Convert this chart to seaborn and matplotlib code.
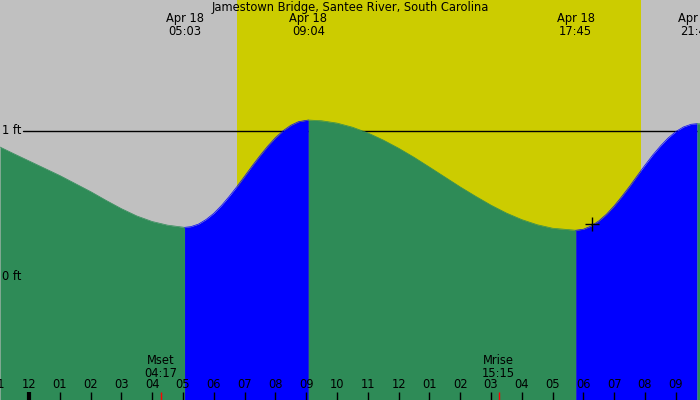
import matplotlib
matplotlib.use("Agg")
import matplotlib.pyplot as plt
import matplotlib.transforms as mtransforms
import seaborn as sns
import pandas as pd

# ---- data (hours after midnight Apr 18, heights in ft) ----
title = "Jamestown Bridge, Santee River, South Carolina"

seg_fall1_t = [-0.94, -0.5, 0.0, 0.5, 1.0, 1.5, 2.0, 2.5, 3.0, 3.5, 4.0, 4.5, 5.05]
seg_fall1_h = [0.89, 0.845, 0.795, 0.745, 0.695, 0.64, 0.585, 0.525, 0.468, 0.418, 0.38, 0.355, 0.34]

seg_rise1_t = [5.05, 5.25, 5.5, 5.75, 6.0, 6.25, 6.5, 6.75, 7.0, 7.25, 7.5, 7.75, 8.0,
               8.25, 8.5, 8.75, 9.07]
seg_rise1_h = [0.34, 0.3445, 0.362, 0.394, 0.436, 0.490, 0.552, 0.619, 0.690, 0.762,
               0.831, 0.896, 0.954, 1.0015, 1.039, 1.0636, 1.075]

seg_fall2_t = [9.07, 9.5, 10.0, 10.5, 11.0, 11.5, 12.0, 12.5, 13.0, 13.5, 14.0, 14.5,
               15.0, 15.5, 16.0, 16.5, 17.0, 17.75]
seg_fall2_h = [1.075, 1.070, 1.054, 1.026, 0.987, 0.938, 0.882, 0.820, 0.753, 0.685, 0.617,
               0.553, 0.492, 0.438, 0.393, 0.358, 0.334, 0.32]

seg_rise2_t = [17.75, 18.0, 18.25, 18.5, 18.75, 19.0, 19.25, 19.5, 19.75, 20.0, 20.25,
               20.5, 20.75, 21.0, 21.25, 21.5, 21.69]
seg_rise2_h = [0.32, 0.327, 0.349, 0.384, 0.430, 0.487, 0.552, 0.621, 0.694, 0.766, 0.835,
               0.897, 0.952, 0.996, 1.0277, 1.046, 1.05]

seg_fall3_t = [21.69, 21.8]
seg_fall3_h = [1.05, 1.049]

tide_times = [5.05, 9.067, 17.75, 21.69]
tide_labels = ["Apr 18\n05:03", "Apr 18\n09:04", "Apr 18\n17:45", "Apr 18\n21:41"]

sunrise, sunset = 6.75, 19.87

moon_times = [4.283, 15.25]
moon_labels = ["Mset\n04:17", "Mrise\n15:15"]

hour_ticks = list(range(-1, 22))
hour_labels = ["11", "12", "01", "02", "03", "04", "05", "06", "07", "08", "09", "10",
               "11", "12", "01", "02", "03", "04", "05", "06", "07", "08", "09"]

level_values = [1, 0]
level_labels = ["1 ft", "0 ft"]

now_t, now_h = 18.28, 0.363

# ---- style ----
sns.set_style("white")
plt.rcParams['font.family'] = ['DejaVu Sans']
FS = 8.3

GRAY = "#c0c0c0"
YELLOW = "#cccc00"
GREEN = "#2e8b57"
BLUE = "#0000ff"

fig = plt.figure(figsize=(7, 4), dpi=100)
ax = fig.add_axes([0, 0, 1, 1])
XMIN, XMAX = -0.942, 21.786
ymin, ymax = -0.8425, 1.897

ax.axvspan(-5, 30, color=GRAY, zorder=0, lw=0)
ax.axvspan(sunrise, sunset, color=YELLOW, zorder=0.5, lw=0)

# 1 ft reference line (behind tide fill)
ax.plot([-0.2, 22], [1, 1], color="black", lw=1, zorder=1)

segments = [
    (seg_fall1_t, seg_fall1_h, GREEN),
    (seg_rise1_t, seg_rise1_h, BLUE),
    (seg_fall2_t, seg_fall2_h, GREEN),
    (seg_rise2_t, seg_rise2_h, BLUE),
    (seg_fall3_t, seg_fall3_h, GREEN),
]
for t, h, c in segments:
    df = pd.DataFrame({"t": t, "h": h})
    ax.fill_between(df["t"], ymin, df["h"], color=c, lw=0, zorder=2)
    sns.lineplot(data=df, x="t", y="h", color=c, lw=0.5, ax=ax, zorder=2.1,
                 estimator=None, sort=False)
ax.set_xlim(XMIN, XMAX)
ax.set_ylim(ymin, ymax)
ax.set_axis_off()

ax.plot([now_t], [now_h], marker="+", color="black", ms=10, mew=1, zorder=5)

trans = mtransforms.blended_transform_factory(ax.transData, ax.transAxes)
trans_left = mtransforms.blended_transform_factory(ax.transAxes, ax.transData)

def yf(px):
    return 1 - px / 400.0

# title
ax.text(0.5, yf(8), title, transform=ax.transAxes, ha="center", va="center",
        fontsize=FS, color="black", zorder=7)

# tide labels
for t, lab in zip(tide_times, tide_labels):
    ax.text(t, yf(25), lab, transform=trans, ha="center", va="center",
            fontsize=FS, linespacing=0.95, color="black", zorder=6)

# level labels
for v, lab in zip(level_values, level_labels):
    ax.text(2 / 700, v, lab, transform=trans_left, ha="left", va="center",
            fontsize=FS, color="black", zorder=7)

# hour ticks and labels
for t, lab in zip(hour_ticks, hour_labels):
    lw = 3 if lab == "12" and t == 0 else 1
    ax.plot([t, t], [yf(392), 0], transform=trans, color="black", lw=lw,
            zorder=6, solid_capstyle="butt", clip_on=False)
    ax.text(t, yf(385), lab, transform=trans, ha="center", va="center",
            fontsize=FS, color="black", zorder=6)

# moon events
for t, lab in zip(moon_times, moon_labels):
    ax.plot([t, t], [yf(392), 0], transform=trans, color="red", lw=1,
            zorder=6, solid_capstyle="butt")
    ax.text(t, yf(367), lab, transform=trans, ha="center", va="center",
            fontsize=FS, linespacing=0.95, color="black", zorder=6)

fig.savefig("out.png", dpi=100)
